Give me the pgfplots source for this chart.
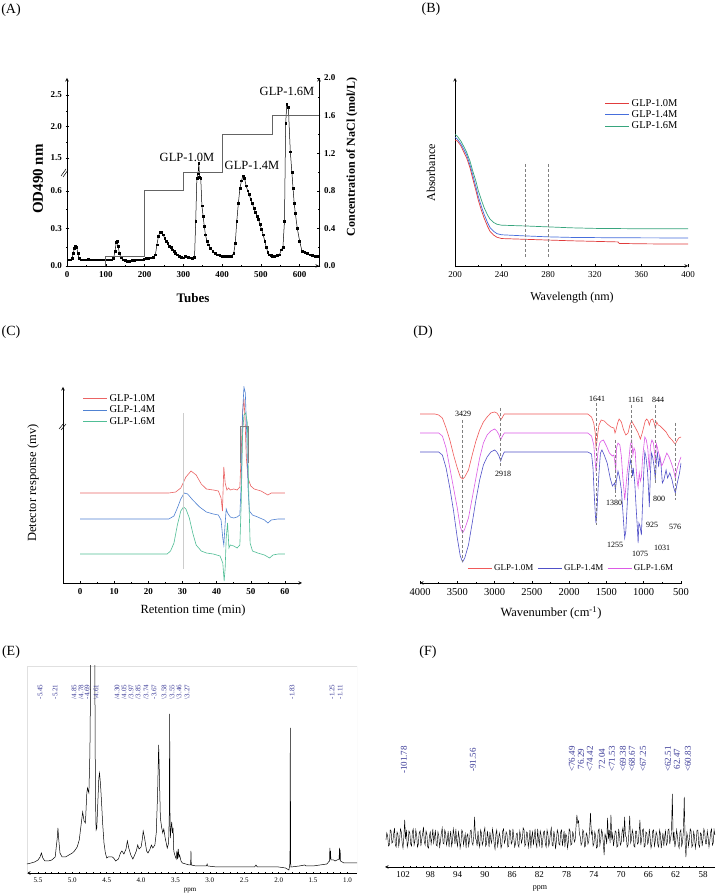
\documentclass[border=0pt]{standalone}
\usepackage{fontspec}
\setmainfont{Liberation Serif}
\usepackage{pgfplots}
\pgfplotsset{compat=1.18}
\definecolor{bRed}{RGB}{225,60,60}
\definecolor{bBlue}{RGB}{70,110,220}
\definecolor{bGreen}{RGB}{55,165,125}
\definecolor{cred}{RGB}{235,100,100}
\definecolor{cblue}{RGB}{80,130,210}
\definecolor{cgreen}{RGB}{80,190,150}
\definecolor{dred}{RGB}{240,90,90}
\definecolor{dblue}{RGB}{80,80,200}
\definecolor{dmag}{RGB}{220,90,230}
\definecolor{navy}{RGB}{55,55,150}
\definecolor{stepgray}{RGB}{100,100,100}
\pgfplotsset{
  base/.style={scale only axis, anchor=south west,
    /pgf/number format/assume math mode=true,
    /pgf/number format/1000 sep={},
    scaled ticks=false,
    tick align=outside, major tick length=3pt, minor tick length=1.6pt,
    every tick/.style={black, line width=0.5pt},
    axis line style={-, line width=0.6pt}},
  lg/.style={legend cell align=left,
    legend image code/.code={\draw[##1] (0pt,0pt) -- (24pt,0pt);}},
}
\begin{document}
\begin{tikzpicture}
\fill[white] (0pt,0pt) rectangle (716pt,896pt);
\path[use as bounding box] (0pt,0pt) rectangle (716pt,896pt);

% ================= (A) =================
\begin{axis}[base, at={(67pt,630pt)}, width=252pt, height=188pt,
  xmin=0, xmax=650, ymin=0, ymax=2,
  axis x line=bottom, axis y line=left,
  xtick={0,100,...,600}, minor x tick num=1,
  ytick={0,0.4,0.8,1.149,1.484,1.819}, yticklabels={0.0,0.3,0.6,1.5,2.0,2.5},
  minor ytick={0.2,0.6,1.316,1.651},
  tick label style={font=\fontsize{9}{10}\selectfont\bfseries}]
\addplot[black, line width=0.5pt, mark=square*, mark size=0.9pt,
  y filter/.expression={y<0.76 ? y*1.3333 : 1.149+(y-1.5)*0.67}] coordinates {
(3,0.05)(8,0.05)(13,0.06)(16,0.1)(19,0.14)(22,0.16)(25,0.15)(28,0.1)(31,0.06)(36,0.05)(42,0.05)(48,0.05)(54,0.055)(60,0.05)(66,0.05)(72,0.05)(78,0.05)(84,0.05)(90,0.05)(96,0.05)(102,0.05)(108,0.05)(114,0.05)(120,0.06)(124,0.12)(127,0.19)(129,0.2)(132,0.16)(135,0.1)(139,0.07)(144,0.05)(150,0.045)(156,0.04)(162,0.04)(168,0.045)(174,0.045)(180,0.05)(186,0.05)(192,0.05)(198,0.055)(204,0.06)(210,0.06)(216,0.065)(222,0.07)(228,0.09)(232,0.17)(236,0.24)(240,0.27)(244,0.27)(248,0.25)(252,0.22)(256,0.2)(260,0.18)(264,0.16)(268,0.15)(272,0.13)(276,0.12)(280,0.1)(285,0.09)(290,0.08)(295,0.07)(300,0.065)(306,0.075)(312,0.07)(318,0.065)(324,0.06)(329,0.07)(332,0.36)(335,0.7)(338,1.25)(340,1.42)(342,1.2)(345,0.7)(348,0.48)(351,0.4)(354,0.32)(357,0.25)(361,0.2)(365,0.17)(370,0.14)(376,0.12)(382,0.1)(388,0.09)(394,0.085)(400,0.075)(406,0.075)(412,0.075)(418,0.075)(424,0.08)(430,0.1)(434,0.18)(438,0.36)(442,0.5)(446,0.62)(450,0.68)(454,0.72)(458,0.7)(462,0.64)(466,0.6)(470,0.57)(474,0.53)(478,0.5)(482,0.46)(486,0.43)(490,0.4)(494,0.37)(498,0.33)(502,0.29)(506,0.25)(510,0.2)(514,0.15)(518,0.11)(522,0.09)(526,0.085)(530,0.08)(536,0.08)(542,0.085)(548,0.09)(553,0.13)(557,0.15)(561,0.36)(564,2.05)(567,2.35)(571,2.3)(576,1.6)(580,0.75)(583,0.62)(586,0.5)(589,0.42)(594,0.3)(600,0.2)(606,0.12)(613,0.11)(620,0.1)(626,0.09)(632,0.085)(639,0.08)(645,0.08)};
\end{axis}
\begin{axis}[base, at={(67pt,630pt)}, width=252pt, height=188pt,
  xmin=0, xmax=650, ymin=0, ymax=2,
  axis x line=none, axis y line=right,
  ytick={0,0.4,0.8,1.2,1.6,2.0}, minor y tick num=1,
  yticklabel style={/pgf/number format/.cd, fixed, fixed zerofill, precision=1},
  tick label style={font=\fontsize{9}{10}\selectfont\bfseries}]
\addplot[stepgray, line width=0.8pt] coordinates {
(100,0)(100,0.1)(200,0.1)(200,0.8)(300,0.8)(300,1.0)(400,1.0)(400,1.4)(530,1.4)(530,1.6)(650,1.6)};
\end{axis}
\draw[line width=0.5pt] (61pt,720pt)--(66pt,727pt);
\draw[line width=0.5pt] (63pt,719pt)--(68pt,726pt);
\node[font=\fontsize{12.5}{14}\selectfont] at (187pt,739pt) {GLP-1.0M};
\node[font=\fontsize{12.5}{14}\selectfont] at (252pt,731pt) {GLP-1.4M};
\node[font=\fontsize{12.5}{14}\selectfont] at (287pt,805pt) {GLP-1.6M};
\node[rotate=90, font=\fontsize{15}{17}\selectfont\bfseries] at (38pt,717pt) {OD490 nm};
\node[rotate=90, font=\fontsize{12}{14}\selectfont\bfseries] at (352pt,739pt) {Concentration of NaCl (mol/L)};
\node[font=\fontsize{13}{15}\selectfont\bfseries] at (193pt,598pt) {Tubes};
\node[font=\fontsize{14}{16}\selectfont] at (11pt,886pt) {(A)};

% ================= (B) =================
\begin{axis}[base, lg, at={(455pt,630pt)}, width=233pt, height=188pt,
  xmin=200, xmax=400, ymin=0, ymax=1,
  axis x line=bottom, axis y line=left, ytick=\empty,
  xtick={200,240,...,400}, minor x tick num=1,
  tick label style={font=\fontsize{9}{10}\selectfont},
  legend style={draw=none, fill=none, at={(0.63,0.91)}, anchor=north west,
    font=\fontsize{10.5}{11}\selectfont, row sep=-1pt}]
\addplot[color=bRed, line width=0.7pt] coordinates {(200,0.67)(202,0.665)(205,0.64)(208,0.6)(210,0.575)(213,0.52)(215,0.47)(218,0.4)(220,0.35)(223,0.29)(225,0.255)(228,0.21)(230,0.185)(233,0.165)(236,0.153)(240,0.146)(250,0.144)(260,0.142)(280,0.138)(300,0.134)(320,0.131)(340,0.128)(341,0.12)(360,0.118)(380,0.117)(400,0.117)};
\addlegendentry{GLP-1.0M}
\addplot[color=bBlue, line width=0.7pt] coordinates {(200,0.685)(202,0.675)(205,0.65)(208,0.615)(210,0.59)(213,0.535)(215,0.49)(218,0.42)(220,0.37)(223,0.31)(225,0.275)(228,0.23)(230,0.205)(233,0.185)(236,0.172)(240,0.166)(260,0.16)(280,0.155)(300,0.152)(340,0.15)(400,0.149)};
\addlegendentry{GLP-1.4M}
\addplot[color=bGreen, line width=0.7pt] coordinates {(200,0.7)(202,0.69)(205,0.665)(208,0.63)(210,0.605)(213,0.555)(215,0.51)(218,0.45)(220,0.4)(223,0.345)(225,0.31)(228,0.27)(230,0.25)(233,0.232)(236,0.222)(240,0.217)(260,0.213)(280,0.208)(300,0.203)(320,0.2)(360,0.198)(400,0.198)};
\addlegendentry{GLP-1.6M}
\draw[gray, densely dashed, line width=0.5pt] (axis cs:260,0.048)--(axis cs:260,0.548);
\draw[gray, densely dashed, line width=0.5pt] (axis cs:280,0.048)--(axis cs:280,0.548);
\end{axis}
\node[rotate=90, font=\fontsize{12}{14}\selectfont] at (431pt,723pt) {Absorbance};
\node[font=\fontsize{12}{14}\selectfont] at (572pt,598pt) {Wavelength (nm)};
\node[font=\fontsize{14}{16}\selectfont] at (431pt,887pt) {(B)};

% ================= (C) =================
\begin{axis}[base, lg, at={(63pt,313pt)}, width=239pt, height=196pt,
  xmin=-5, xmax=65, ymin=0, ymax=196,
  axis x line=bottom, axis y line=left, ytick=\empty,
  xtick={0,10,...,60}, minor x tick num=1,
  tick label style={font=\fontsize{9}{10}\selectfont\bfseries},
  legend style={draw=none, fill=none, at={(0.07,0.985)}, anchor=north west,
    font=\fontsize{10.5}{11}\selectfont, row sep=-1pt}]
\addplot[cred, line width=0.6pt] coordinates {(0,90)(26,90)(28,91)(29.5,95)(31,106)(32.5,112)(34,108)(35.5,99)(37,94)(39,93)(40.5,92)(41.3,85)(41.7,72)(42.1,116)(42.5,100)(43,93)(43.5,95)(44,93)(45,94)(46,93)(46.8,96)(47.2,130)(47.6,170)(48,184)(48.3,165)(48.7,125)(49.2,105)(50,97)(51,94)(53,92)(55,88)(56,90)(58,90)(60,90)};
\addlegendentry{GLP-1.0M}
\addplot[cblue, line width=0.6pt] coordinates {(0,64)(26,64)(27.5,67)(28.5,75)(29.5,84)(30.5,90)(31.5,89)(33,83)(35,76)(37,71)(39,69)(40.5,68)(41.3,63)(41.8,45)(42.1,38)(42.5,60)(42.8,74)(43.2,70)(44,66)(45,65)(46,66)(46.8,68)(47.2,100)(47.6,170)(48,196)(48.4,190)(48.8,150)(49.2,95)(49.6,72)(50.5,68)(52,66)(54,63)(55,60)(56,63)(58,64)(60,64)};
\addlegendentry{GLP-1.4M}
\addplot[cgreen, line width=0.6pt] coordinates {(0,29)(25.5,29)(26.5,32)(27.5,40)(28.5,58)(29.5,72)(30.3,76)(31,74)(32,65)(33,50)(34,38)(35.5,32)(37,30)(39,29)(41,27)(41.8,20)(42.2,2)(42.5,15)(42.8,45)(43.2,60)(43.6,35)(44,38)(45,37)(46,35)(46.8,38)(47.2,80)(47.6,150)(48,168)(48.5,170)(49,160)(49.4,90)(49.8,40)(50.5,32)(52,30)(54,28)(55.5,25)(56.5,28)(58,29)(60,29)};
\addlegendentry{GLP-1.6M}
\draw[black!20, line width=0.8pt] (axis cs:30.3,14)--(axis cs:30.3,170);
\draw[gray, line width=0.9pt] (axis cs:47.1,157) -- (axis cs:49.3,157);
\draw[gray, line width=0.9pt] (axis cs:47.1,157) -- (axis cs:47.1,120);
\draw[gray, line width=0.9pt] (axis cs:49.3,157) -- (axis cs:49.3,120);
\end{axis}
\draw[line width=0.5pt] (59pt,467pt)--(64pt,473pt);
\draw[line width=0.5pt] (61pt,466pt)--(66pt,472pt);
\node[rotate=90, font=\fontsize{12.5}{14}\selectfont] at (33pt,413pt) {Detector response (mv)};
\node[font=\fontsize{12.5}{14}\selectfont] at (193pt,286pt) {Retention time (min)};
\node[font=\fontsize{14}{16}\selectfont] at (11pt,564pt) {(C)};

% ================= (D) =================
\begin{axis}[base, lg, at={(420pt,313pt)}, width=261pt, height=193pt,
  xmin=500, xmax=4000, x dir=reverse, ymin=0, ymax=193,
  axis x line=bottom, axis y line=none,
  xtick={500,1000,...,4000}, minor x tick num=1,
  tick label style={font=\fontsize{10.5}{12}\selectfont},
  legend columns=3,
  legend style={draw=none, fill=none, at={(0.58,0.078)}, anchor=center,
    font=\fontsize{9}{10}\selectfont, /tikz/every even column/.append style={column sep=2pt}}]
\addplot[dred, line width=0.6pt] coordinates {(4000,169)(3800,169)(3750,168)(3700,165)(3650,155)(3600,143)(3550,128)(3500,115)(3460,106)(3429,104)(3400,106)(3350,113)(3300,128)(3250,142)(3200,153)(3150,161)(3100,166)(3050,170)(3000,171)(2970,170)(2940,167)(2918,163)(2900,165)(2870,169)(2850,169)(2000,169)(1750,169)(1700,166)(1670,160)(1650,150)(1641,136)(1630,140)(1615,150)(1600,158)(1570,163)(1530,162)(1490,159)(1440,156)(1400,155)(1385,150)(1375,152)(1350,160)(1330,164)(1300,161)(1270,153)(1240,148)(1210,150)(1185,158)(1161,162)(1140,159)(1110,155)(1075,150)(1045,144)(1020,150)(1000,156)(980,162)(960,164)(940,162)(925,158)(905,163)(880,164)(860,160)(844,155)(825,161)(805,158)(780,157)(740,154)(700,151)(660,146)(620,143)(590,140)(576,139)(555,142)(530,145)(500,146)};
\addlegendentry{GLP-1.0M}
\addplot[dblue, line width=0.6pt] coordinates {(4000,131)(3750,131)(3700,128)(3650,115)(3600,95)(3550,72)(3500,45)(3460,27)(3429,21)(3400,25)(3350,38)(3300,60)(3250,83)(3200,103)(3150,118)(3100,126)(3050,131)(3000,133)(2970,131)(2940,127)(2918,122)(2900,126)(2870,131)(1750,131)(1700,129)(1680,115)(1665,90)(1650,70)(1641,60)(1630,68)(1615,90)(1600,110)(1580,130)(1560,133)(1530,128)(1490,120)(1450,105)(1420,97)(1400,99)(1390,100)(1380,93)(1365,103)(1345,112)(1325,106)(1300,93)(1280,72)(1265,55)(1255,45)(1240,52)(1220,80)(1200,110)(1180,123)(1165,118)(1150,107)(1140,115)(1120,100)(1100,73)(1085,55)(1075,40)(1065,60)(1050,57)(1031,48)(1015,80)(1000,110)(985,131)(970,126)(950,113)(935,93)(925,76)(910,110)(895,130)(880,126)(860,116)(844,103)(830,123)(815,130)(800,116)(785,126)(770,120)(750,100)(730,103)(700,113)(680,105)(650,110)(620,103)(600,96)(576,90)(550,100)(520,110)(500,120)};
\addlegendentry{GLP-1.4M}
\addplot[dmag, line width=0.6pt] coordinates {(4000,150)(3750,150)(3700,147)(3650,135)(3600,115)(3550,95)(3500,75)(3460,56)(3429,50)(3400,54)(3350,65)(3300,85)(3250,105)(3200,125)(3150,140)(3100,148)(3050,152)(3000,154)(2970,152)(2940,148)(2918,143)(2900,146)(2870,150)(1750,150)(1700,147)(1670,138)(1655,125)(1641,113)(1625,122)(1610,133)(1590,140)(1570,142)(1540,143)(1500,137)(1460,130)(1420,127)(1400,128)(1385,120)(1375,110)(1365,135)(1345,140)(1320,138)(1300,127)(1280,105)(1265,93)(1255,83)(1240,95)(1220,112)(1200,123)(1180,138)(1161,143)(1145,128)(1130,135)(1115,132)(1100,113)(1085,100)(1075,96)(1060,110)(1045,102)(1031,106)(1015,125)(1000,136)(985,146)(965,143)(945,134)(925,113)(910,137)(890,143)(870,140)(855,130)(844,120)(830,139)(815,135)(800,130)(780,126)(760,117)(740,120)(720,124)(690,130)(660,126)(630,120)(600,113)(576,105)(560,112)(530,120)(500,126)};
\addlegendentry{GLP-1.6M}
\draw[gray, densely dashed, line width=0.45pt] (axis cs:3429,163)--(axis cs:3429,21);
\draw[gray, densely dashed, line width=0.45pt] (axis cs:2918,175)--(axis cs:2918,115);
\draw[gray, densely dashed, line width=0.45pt] (axis cs:1641,180)--(axis cs:1641,58);
\draw[gray, densely dashed, line width=0.45pt] (axis cs:1161,178)--(axis cs:1161,103);
\draw[gray, densely dashed, line width=0.45pt] (axis cs:844,178)--(axis cs:844,100);
\draw[gray, densely dashed, line width=0.45pt] (axis cs:1380,143)--(axis cs:1380,86);
\draw[gray, densely dashed, line width=0.45pt] (axis cs:576,160)--(axis cs:576,83);
\end{axis}
\begin{scope}[every node/.style={font=\fontsize{8}{9}\selectfont}]
\node at (463pt,482pt) {3429};
\node at (503pt,422pt) {2918};
\node at (597pt,497pt) {1641};
\node at (636pt,496pt) {1161};
\node at (658pt,496pt) {844};
\node at (614pt,393pt) {1380};
\node at (659pt,397pt) {800};
\node at (652pt,371pt) {925};
\node at (675pt,369pt) {576};
\node at (615pt,351pt) {1255};
\node at (640pt,342pt) {1075};
\node at (662pt,348pt) {1031};
\end{scope}
\node[font=\fontsize{12.5}{14}\selectfont] at (551pt,283pt) {Wavenumber (cm\textsuperscript{-1})};
\node[font=\fontsize{14}{16}\selectfont] at (423pt,564pt) {(D)};

% ================= (E) =================
\begin{axis}[base, at={(27pt,23pt)}, width=330pt, height=207pt,
  xmin=0.86, xmax=5.66, x dir=reverse, ymin=0, ymax=207,
  axis x line=bottom, axis y line=none,
  xtick={1.0,1.5,2.0,2.5,3.0,3.5,4.0,4.5,5.0,5.5}, minor x tick num=4,
  major tick length=2.5pt, minor tick length=1.3pt,
  xticklabel style={/pgf/number format/.cd, fixed, fixed zerofill, precision=1},
  tick label style={font=\fontsize{7}{8}\selectfont}]
\draw[black!12] (rel axis cs:0,0) rectangle (rel axis cs:1,1);
\addplot[black, line width=0.5pt] coordinates {(5.66,9)(5.6,10)(5.55,11)(5.5,13)(5.47,16)(5.45,20)(5.43,15)(5.4,12)(5.35,12)(5.3,13)(5.25,16)(5.22,35)(5.21,45)(5.2,35)(5.18,20)(5.15,16)(5.1,16)(5.05,18)(5.0,20)(4.97,22)(4.93,26)(4.9,33)(4.87,50)(4.85,61)(4.83,52)(4.81,50)(4.79,80)(4.78,85)(4.77,82)(4.76,80)(4.745,120)(4.73,230)(4.72,300)(4.70,300)(4.68,300)(4.675,230)(4.665,80)(4.655,43)(4.645,45)(4.63,70)(4.615,95)(4.605,100)(4.59,88)(4.575,70)(4.56,50)(4.54,30)(4.52,20)(4.5,15)(4.48,16)(4.45,16)(4.42,16)(4.4,15)(4.37,12)(4.33,14)(4.3,20)(4.28,22)(4.25,19)(4.22,24)(4.2,32)(4.18,25)(4.15,18)(4.12,14)(4.1,17)(4.07,22)(4.05,28)(4.03,24)(4.0,26)(3.98,35)(3.97,42)(3.95,35)(3.92,22)(3.9,20)(3.87,24)(3.85,28)(3.83,25)(3.8,28)(3.78,40)(3.76,80)(3.745,128)(3.735,100)(3.72,55)(3.7,45)(3.685,40)(3.67,44)(3.65,35)(3.62,25)(3.6,30)(3.59,60)(3.585,159)(3.58,60)(3.575,35)(3.565,45)(3.555,51)(3.545,40)(3.535,45)(3.525,22)(3.51,18)(3.49,14)(3.48,22)(3.47,14)(3.46,24)(3.45,16)(3.44,18)(3.42,12)(3.4,10)(3.35,9)(3.3,8)(3.28,8)(3.275,22)(3.27,8)(3.2,7)(3.1,7)(3.05,7)(3.04,9)(3.03,7)(2.9,6)(2.8,6)(2.6,6)(2.5,6)(2.35,6)(2.33,8)(2.31,6)(2.2,6)(2.0,6)(1.9,5)(1.85,3)(1.835,10)(1.83,145)(1.825,10)(1.82,6)(1.7,7)(1.62,8)(1.6,7)(1.5,7)(1.4,8)(1.3,9)(1.26,12)(1.255,25)(1.25,14)(1.245,22)(1.24,13)(1.2,13)(1.18,12)(1.15,13)(1.12,14)(1.115,25)(1.11,13)(1.105,23)(1.1,12)(1.05,10)(1.0,10)(0.95,10)(0.9,10)(0.86,10)};
\end{axis}
\begin{scope}[every node/.style={rotate=90, text=navy, font=\fontsize{7}{8}\selectfont}]
\node at (40pt,204pt) {-5.45};
\node at (55pt,204pt) {-5.21};
\node at (74pt,204pt) {/4.85};
\node at (81pt,204pt) {/4.78};
\node at (87pt,204pt) {-4.69};
\node at (96pt,204pt) {\textbackslash4.61};
\node at (117pt,204pt) {/4.30};
\node at (124pt,204pt) {/4.05};
\node at (131pt,204pt) {/3.97};
\node at (138pt,204pt) {/3.85};
\node at (146pt,204pt) {/3.74};
\node at (154pt,204pt) {-3.67};
\node at (164pt,204pt) {\textbackslash3.58};
\node at (172pt,204pt) {\textbackslash3.55};
\node at (179pt,204pt) {\textbackslash3.46};
\node at (187pt,204pt) {\textbackslash3.27};
\node at (292pt,204pt) {-1.83};
\node at (332pt,204pt) {-1.25};
\node at (340pt,204pt) {-1.11};
\end{scope}
\node[font=\fontsize{7}{8}\selectfont] at (190pt,5pt) {ppm};
\node[font=\fontsize{14}{16}\selectfont] at (11pt,244pt) {(E)};

% ================= (F) =================
\begin{axis}[base, at={(385pt,29pt)}, width=330pt, height=127pt,
  xmin=56.24, xmax=104.64, x dir=reverse, ymin=0, ymax=127,
  axis x line=bottom, axis y line=none,
  xtick={58,62,...,102}, minor x tick num=3,
  major tick length=2.5pt, minor tick length=1.5pt,
  tick label style={font=\fontsize{9}{10}\selectfont}]
\addplot[black, line width=0.45pt] coordinates {
(104.5,27)(104.375,34)(104.25,31)(104.125,21)(104,22)(103.875,37)(103.75,36)(103.625,24)(103.5,25)(103.375,33)(103.25,39)(103.125,22)(103,20)(102.875,35)(102.75,33)(102.625,21)(102.5,27)(102.375,38)(102.25,35)(102.125,24)(102,19)(101.875,30)(101.75,47)(101.625,28)(101.5,37)(101.375,20)(101.25,24)(101.125,36)(101,34)(100.875,23)(100.75,21)(100.625,35)(100.5,38)(100.375,22)(100.25,26)(100.125,37)(100,32)(99.875,20)(99.75,23)(99.625,34)(99.5,36)(99.375,21)(99.25,28)(99.125,33)(99,40)(98.875,25)(98.75,22)(98.625,36)(98.5,33)(98.375,20)(98.25,19)(98.125,31)(98,35)(97.875,23)(97.75,29)(97.625,38)(97.5,24)(97.375,30)(97.25,37)(97.125,22)(97,21)(96.875,35)(96.75,31)(96.625,20)(96.5,26)(96.375,34)(96.25,39)(96.125,24)(96,23)(95.875,37)(95.75,34)(95.625,22)(95.5,27)(95.375,36)(95.25,20)(95.125,29)(95,36)(94.875,21)(94.75,25)(94.625,38)(94.5,32)(94.375,23)(94.25,38)(94.125,26)(94,21)(93.875,35)(93.75,30)(93.625,19)(93.5,24)(93.375,37)(93.25,35)(93.125,22)(93,28)(92.875,33)(92.75,19)(92.625,31)(92.5,33)(92.375,21)(92.25,26)(92.125,36)(92,37)(91.875,24)(91.75,22)(91.625,30)(91.5,50)(91.375,29)(91.25,27)(91.125,21)(91,36)(90.875,24)(90.75,20)(90.625,37)(90.5,34)(90.375,22)(90.25,25)(90.125,35)(90,39)(89.875,21)(89.75,23)(89.625,36)(89.5,29)(89.375,20)(89.25,35)(89.125,27)(89,24)(88.875,38)(88.75,32)(88.625,23)(88.5,18)(88.375,33)(88.25,37)(88.125,21)(88,26)(87.875,34)(87.75,30)(87.625,19)(87.5,22)(87.375,36)(87.25,38)(87.125,24)(87,27)(86.875,35)(86.75,33)(86.625,20)(86.5,21)(86.375,37)(86.25,36)(86.125,23)(86,25)(85.875,38)(85.75,29)(85.625,20)(85.5,23)(85.375,33)(85.25,34)(85.125,22)(85,20)(84.875,36)(84.75,31)(84.625,24)(84.5,28)(84.375,39)(84.25,37)(84.125,21)(84,23)(83.875,35)(83.75,34)(83.625,20)(83.5,26)(83.375,37)(83.25,19)(83.125,30)(83,35)(82.875,22)(82.75,30)(82.625,38)(82.5,24)(82.375,20)(82.25,38)(82.125,27)(82,22)(81.875,36)(81.75,32)(81.625,19)(81.5,27)(81.375,35)(81.25,36)(81.125,23)(81,20)(80.875,37)(80.75,33)(80.625,21)(80.5,25)(80.375,34)(80.25,39)(80.125,22)(80,21)(79.875,36)(79.75,30)(79.625,18)(79.5,26)(79.375,37)(79.25,34)(79.125,23)(79,22)(78.875,35)(78.75,37)(78.625,21)(78.5,28)(78.375,36)(78.25,20)(78.125,33)(78,31)(77.875,19)(77.75,25)(77.625,38)(77.5,36)(77.375,22)(77.25,23)(77.125,35)(77,33)(76.875,25)(76.75,27)(76.625,40)(76.5,52)(76.375,44)(76.25,46)(76.125,33)(76,30)(75.875,22)(75.75,24)(75.625,37)(75.5,35)(75.375,20)(75.25,21)(75.125,34)(75,32)(74.875,23)(74.75,26)(74.625,38)(74.5,54)(74.375,33)(74.25,36)(74.125,21)(74,23)(73.875,35)(73.75,31)(73.625,19)(73.5,20)(73.375,36)(73.25,38)(73.125,22)(73,27)(72.875,37)(72.75,34)(72.625,24)(72.5,12)(72.375,33)(72.25,30)(72.125,23)(72,49)(71.875,28)(71.75,37)(71.625,24)(71.5,52)(71.375,27)(71.25,33)(71.125,21)(71,28)(70.875,36)(70.75,35)(70.625,20)(70.5,21)(70.375,38)(70.25,32)(70.125,22)(70,24)(69.875,35)(69.75,39)(69.625,25)(69.5,50)(69.375,31)(69.25,30)(69.125,20)(69,22)(68.875,34)(68.75,51)(68.625,24)(68.5,27)(68.375,37)(68.25,33)(68.125,21)(68,20)(67.875,36)(67.75,36)(67.625,23)(67.5,24)(67.375,34)(67.25,47)(67.125,22)(67,28)(66.875,37)(66.75,38)(66.625,20)(66.5,21)(66.375,35)(66.25,34)(66.125,23)(66,25)(65.875,38)(65.75,29)(65.625,19)(65.5,23)(65.375,36)(65.25,37)(65.125,21)(65,26)(64.875,35)(64.75,32)(64.625,22)(64.5,20)(64.375,37)(64.25,33)(64.125,19)(64,27)(63.875,34)(63.75,21)(63.625,30)(63.5,36)(63.375,22)(63.25,24)(63.125,37)(63,38)(62.875,23)(62.75,29)(62.625,34)(62.5,73)(62.375,26)(62.25,35)(62.125,20)(62,26)(61.875,37)(61.75,31)(61.625,22)(61.5,19)(61.375,35)(61.25,37)(61.125,21)(61,25)(60.875,36)(60.75,70)(60.625,24)(60.5,10)(60.375,34)(60.25,30)(60.125,21)(60,28)(59.875,38)(59.75,36)(59.625,20)(59.5,22)(59.375,35)(59.25,31)(59.125,19)(59,25)(58.875,37)(58.75,37)(58.625,22)(58.5,20)(58.375,34)(58.25,33)(58.125,21)(58,28)(57.875,38)(57.75,35)(57.625,23)(57.5,23)(57.375,36)(57.25,30)(57.125,20)(57,26)(56.875,35)(56.75,38)(56.625,22)(56.5,24)(56.375,37)(56.25,32)};
\end{axis}
\begin{scope}[every node/.style={rotate=90, text=navy, font=\fontsize{9}{10}\selectfont}]
\node at (404pt,136pt) {-101.78};
\node at (473pt,136pt) {-91.56};
\node at (572pt,137pt) {\textless76.49};
\node at (581pt,137pt) {76.29};
\node at (590pt,137pt) {\textless74.42};
\node at (602pt,137pt) {72.04};
\node at (612pt,137pt) {\textless71.53};
\node at (623pt,137pt) {\textless69.38};
\node at (632pt,137pt) {\textless68.67};
\node at (643pt,137pt) {\textless67.25};
\node at (668pt,137pt) {\textless62.51};
\node at (677pt,137pt) {62.47};
\node at (688pt,137pt) {\textless60.83};
\end{scope}
\node[font=\fontsize{8}{9}\selectfont] at (540pt,8pt) {ppm};
\node[font=\fontsize{14}{16}\selectfont] at (428pt,244pt) {(F)};
\end{tikzpicture}
\end{document}
